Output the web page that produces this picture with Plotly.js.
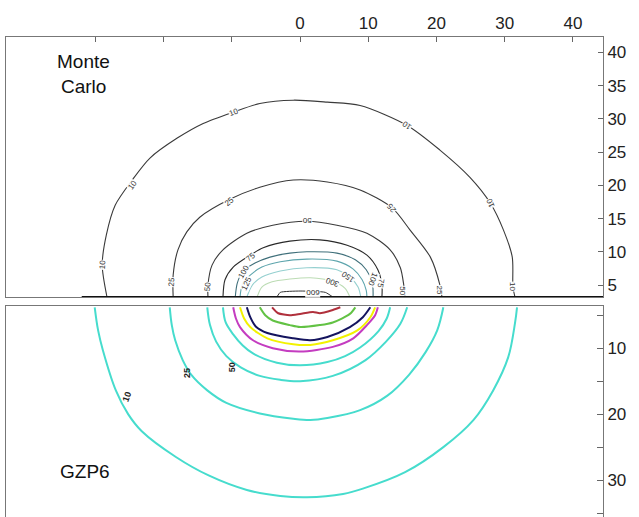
<!DOCTYPE html>
<html>
<head>
<meta charset="utf-8">
<script src="https://cdn.plot.ly/plotly-3.0.1.min.js"></script>
<style>html,body{margin:0;padding:0;background:#fff;}#chart{width:639px;height:517px;}</style>
</head>
<body>
<div id="chart"></div>
<script>
// ---- Monte Carlo isodose lines (top panel) ----
const mc10x = [-28.3,-29.0,-28.4,-27.1,-24.6,-22.0,-18.0,-14.2,-9.8,-5.9,-1.0,4.0,8.8,15.7,20.5,24.9,27.9,29.8,31.1,31.2,31.5];
const mc10y = [3.2,8.0,12.5,17.0,20.8,24.1,27.1,29.3,31.0,32.3,32.8,32.5,32.0,29.0,25.3,21.2,17.3,13.3,9.2,4.7,3.2];
const mc25x = [-18.6,-18.6,-17.9,-16.6,-14.7,-10.3,-5.9,-1.0,4.0,8.8,13.5,16.1,19.1,20.5,20.8];
const mc25y = [3.2,6.5,10.3,13.0,15.2,17.9,19.7,20.8,20.5,19.3,16.6,13.3,9.2,5.0,3.2];
const mc50x = [-13.5,-13.5,-12.9,-11.3,-7.8,-4.0,1.0,5.4,9.8,13.2,14.7,15.2,15.4];
const mc50y = [3.2,5.0,8.0,10.3,12.8,14.0,14.6,14.0,12.8,10.3,7.6,5.0,3.2];
const mc75x = [-11.3,-11.0,-9.8,-7.3,-5.4,-1.5,2.9,6.9,9.8,11.4,12.0,12.0];
const mc75y = [3.2,5.8,7.7,9.5,10.6,11.6,11.8,11.0,9.5,7.3,5.0,3.2];
const mc100x = [-9.5,-9.2,-8.4,-6.6,-4.4,-1.5,1.0,5.4,8.1,9.7,10.6,10.7];
const mc100y = [3.2,5.3,7.0,8.3,9.2,9.8,10.0,9.8,8.8,7.3,5.3,3.2];
const mc125x = [-8.8,-8.4,-7.3,-5.6,-2.9,1.0,5.4,7.8,9.1,9.7,9.8];
const mc125y = [3.2,5.3,6.5,7.7,8.5,8.9,8.6,7.4,5.8,4.2,3.2];
const mc150x = [-7.8,-7.0,-5.6,-2.9,1.0,5.4,7.3,8.5,8.9];
const mc150y = [3.2,5.0,6.2,7.1,7.6,7.3,6.2,4.7,3.2];
const mc300x = [-6.3,-5.6,-4.1,-1.5,1.5,4.7,6.6,7.3];
const mc300y = [3.2,4.7,5.5,5.9,6.1,5.6,4.5,3.2];
const mc600x = [-3.4,-2.9,0.0,3.7,4.8];
const mc600y = [3.2,3.9,4.1,3.9,3.2];
const baseX = [-32, 44.4];
const baseY = [3.2, 3.2];

// ---- GZP6 isodose lines (bottom panel, depth downwards) ----
const g10x = [-30.1,-29.6,-28.9,-27.0,-25.2,-23.2,-18.2,-13.4,-7.8,-2.9,1.0,6.3,9.2,15.4,21.0,25.4,28.3,30.5,31.5,31.8];
const g10y = [3.8,7.3,10.3,16.4,20.0,22.6,26.5,29.3,31.5,32.4,32.6,32.1,31.3,28.8,25.0,20.9,16.4,11.4,6.2,3.8];
const g25x = [-19.1,-18.8,-18.3,-17.2,-15.9,-13.6,-10.8,-5.9,-1.0,1.5,4.0,8.8,12.8,16.0,18.4,20.1,21.0];
const g25y = [3.8,6.5,8.8,11.8,14.1,16.4,18.3,19.9,20.7,20.9,20.6,19.4,17.2,14.0,10.6,7.3,3.8];
const g50x = [-13.6,-13.2,-12.3,-10.8,-8.7,-5.9,-2.9,0.0,4.8,9.6,12.6,14.7,15.7];
const g50y = [3.8,6.5,9.0,11.2,12.9,14.2,14.8,15.0,14.2,11.8,9.0,6.3,3.8];
const g75x = [-11.3,-10.9,-9.8,-8.4,-6.9,-3.4,0.0,4.0,6.6,8.8,11.5,12.7,13.2];
const g75y = [3.8,6.1,7.9,9.6,10.8,12.2,12.6,12.1,11.2,9.9,7.4,5.5,3.8];
const gMagx = [-9.8,-9.4,-8.8,-6.9,-4.0,0.0,4.8,7.8,9.8,11.0,11.4];
const gMagy = [3.8,5.5,6.8,8.8,10.0,10.5,9.8,8.5,6.5,5.0,3.8];
const gYelx = [-8.8,-8.2,-7.3,-4.8,-1.0,1.5,4.8,8.4,10.3,11.0];
const gYely = [3.8,5.5,6.8,8.5,9.4,9.5,8.8,7.3,5.3,3.8];
const gNavx = [-7.8,-7.3,-6.5,-4.8,-1.0,1.5,4.0,7.3,9.2,10.3];
const gNavy = [3.8,5.3,6.7,7.7,8.5,8.8,8.3,6.8,5.3,3.8];
const gGrnx = [-5.9,-5.1,-4.0,-1.5,0.0,2.9,4.8,7.3,8.1];
const gGrny = [3.8,5.0,5.8,6.5,6.8,6.5,6.1,4.8,3.8];
const gRedx = [-4.1,-3.2,-1.5,0.0,1.9,2.9,4.8,5.9];
const gRedy = [3.8,4.7,5.0,4.8,4.5,4.7,4.2,3.8];

// ---- tick labels ----
const topTickVals = [-30,-20,-10,0,10,20,30,40];
const topTickText = ['','','','0','10','20','30','40'];
const mcTickVals = [5,10,15,20,25,30,35,40];
const mcTickText = ['5','10','15','20','25','30','35','40'];
const gTickVals = [5,10,15,20,25,30,35];
const gTickText = ['','10','','20','','30',''];

// ---- contour labels ----
const mcLabText = ['10','10','10','10','10','10','25','25','25','25','50','50','50','75','75','100','100','125','150','300','600'];
const mcLabX = [-29.0,-24.6,-9.8,15.7,27.9,31.2,-18.8,-10.3,13.5,20.5,-13.6,1.0,15.1,-7.3,11.9,-8.2,10.6,-7.8,7.0,4.7,1.8];
const mcLabY = [8.0,20.0,31.0,29.0,17.3,4.7,5.5,17.5,16.6,4.2,4.7,14.6,4.2,9.2,5.3,7.0,5.8,5.2,6.2,5.5,3.8];
const mcLabAng = [-85,-55,-20,-145,-115,90,-85,-40,-130,90,-85,180,90,-40,100,-60,110,-65,-145,-160,180];
const gLabText = ['10','25','50'];
const gLabX = [-25.4,-16.6,-10.0];
const gLabY = [17.4,13.8,12.9];
const gLabAng = [-70,-90,-90];

function line(x, y, color, width, xa, ya, sm) {
  return {type:'scatter', mode:'lines', x:x, y:y, xaxis:xa, yaxis:ya,
    line:{color:color, width:width, shape:'spline', smoothing:sm}, hoverinfo:'skip', showlegend:false};
}

const traces = [
  line(mc10x, mc10y, '#3a3a3a', 1.1, 'x', 'y', 0.8),
  line(mc25x, mc25y, '#3a3a3a', 1.1, 'x', 'y', 0.8),
  line(mc50x, mc50y, '#3a3a3a', 1.1, 'x', 'y', 0.8),
  line(mc75x, mc75y, '#2a2a2a', 1.1, 'x', 'y', 0.8),
  line(mc100x, mc100y, '#3f6f7a', 1.1, 'x', 'y', 0.8),
  line(mc125x, mc125y, '#5ea5ad', 1.1, 'x', 'y', 0.8),
  line(mc150x, mc150y, '#95d0d0', 1.1, 'x', 'y', 0.8),
  line(mc300x, mc300y, '#bcdcb4', 1.1, 'x', 'y', 0.8),
  line(mc600x, mc600y, '#333333', 1.0, 'x', 'y', 0.5),
  {type:'scatter', mode:'lines', x:baseX, y:baseY, xaxis:'x', yaxis:'y', line:{color:'#111', width:2.2}, hoverinfo:'skip', showlegend:false},
  line(g10x, g10y, '#46dccd', 2, 'x2', 'y2', 1),
  line(g25x, g25y, '#46dccd', 2, 'x2', 'y2', 1),
  line(g50x, g50y, '#46dccd', 2, 'x2', 'y2', 1),
  line(g75x, g75y, '#46dccd', 2, 'x2', 'y2', 1),
  line(gMagx, gMagy, '#c43cc0', 2, 'x2', 'y2', 0.8),
  line(gYelx, gYely, '#f2f200', 2, 'x2', 'y2', 0.8),
  line(gNavx, gNavy, '#14145e', 2, 'x2', 'y2', 0.8),
  line(gGrnx, gGrny, '#62c244', 2, 'x2', 'y2', 0.8),
  line(gRedx, gRedy, '#b0303c', 2, 'x2', 'y2', 0.6)
];

const annotations = [];
for (let i = 0; i < mcLabText.length; i++) {
  annotations.push({xref:'x', yref:'y', x:mcLabX[i], y:mcLabY[i], text:mcLabText[i], showarrow:false,
    textangle:mcLabAng[i], bgcolor:'rgba(255,255,255,0.9)', borderpad:0,
    font:{family:'Arial, Liberation Sans, sans-serif', size:8, color:'#333'}});
}
for (let i = 0; i < gLabText.length; i++) {
  annotations.push({xref:'x2', yref:'y2', x:gLabX[i], y:gLabY[i], text:'<b>'+gLabText[i]+'</b>', showarrow:false,
    textangle:gLabAng[i], font:{family:'Arial, Liberation Sans, sans-serif', size:9, color:'#222'}});
}
const bigFont = {family:'Arial, Liberation Sans, sans-serif', size:19, color:'#111'};
annotations.push({xref:'paper', yref:'paper', x:0.129, y:0.948, xanchor:'center', yanchor:'middle', text:'Monte', showarrow:false, font:bigFont});
annotations.push({xref:'paper', yref:'paper', x:0.129, y:0.896, xanchor:'center', yanchor:'middle', text:'Carlo', showarrow:false, font:bigFont});
annotations.push({xref:'paper', yref:'paper', x:0.132, y:0.094, xanchor:'center', yanchor:'middle', text:'GZP6', showarrow:false, font:bigFont});

const tickFont = {family:'Arial, Liberation Sans, sans-serif', size:17, color:'#222'};
const layout = {
  width:639, height:517,
  margin:{l:6, r:36, t:37, b:0},
  paper_bgcolor:'#fff', plot_bgcolor:'#fff',
  showlegend:false,
  xaxis:{domain:[0,1], anchor:'y', side:'top', range:[-43.1,44.4], tickmode:'array', tickvals:topTickVals, ticktext:topTickText,
    ticks:'inside', ticklen:5, tickcolor:'#666', showline:true, linecolor:'#777', linewidth:1, mirror:true,
    showgrid:false, zeroline:false, tickfont:tickFont},
  yaxis:{domain:[0.4583,1], anchor:'x', side:'right', range:[3.2,42.3], tickmode:'array', tickvals:mcTickVals, ticktext:mcTickText,
    ticks:'inside', ticklen:5, tickcolor:'#666', showline:true, linecolor:'#777', linewidth:1, mirror:true,
    showgrid:false, zeroline:false, tickfont:tickFont},
  xaxis2:{domain:[0,1], anchor:'y2', side:'top', range:[-43.1,44.4], showticklabels:false, ticks:'',
    showline:true, linecolor:'#777', linewidth:1, mirror:false, showgrid:false, zeroline:false},
  yaxis2:{domain:[0,0.4396], anchor:'x2', side:'right', range:[35.6,3.6], tickmode:'array', tickvals:gTickVals, ticktext:gTickText,
    ticks:'inside', ticklen:6, tickcolor:'#666', showline:true, linecolor:'#777', linewidth:1, mirror:true,
    showgrid:false, zeroline:false, tickfont:tickFont},
  annotations:annotations
};

Plotly.newPlot('chart', traces, layout, {staticPlot:true, displayModeBar:false});
</script>
</body>
</html>
